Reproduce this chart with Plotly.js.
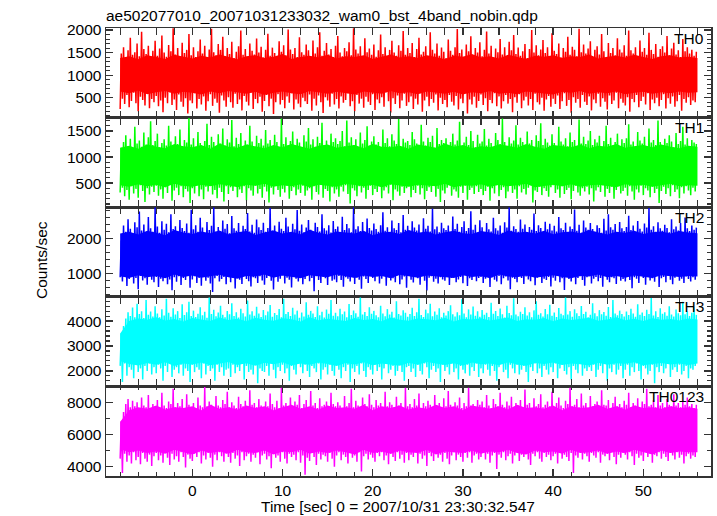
<!DOCTYPE html>
<html>
<head>
<meta charset="utf-8">
<script src="https://cdn.plot.ly/plotly-3.0.1.min.js"></script>
<style>html,body{margin:0;padding:0;background:#fff;}#chart{width:717px;height:516px;}</style>
</head>
<body>
<div id="chart"></div>
<script>
// Light-curve bins: time of first bin (sec), spike-bin width and core-bin width (sec)
const binStart = -8;
const binSize = 0.25;
const coreBin = 1.0;

const bandNames = ["TH0", "TH1", "TH2", "TH3", "TH0123"];

// ---- TH0: per-bin high / low excursions and dense-core envelope (counts/sec)
const th0Hi = [
1480,1620,1390,1550,1830,1450,1510,1700,1420,1960,1580,1470,1650,1380,1540,1760,
1430,1590,1880,1500,1410,1670,1530,2040,1460,1600,1370,1720,1490,1560,1910,1440,
1620,1400,1530,1790,1480,1650,1390,1570,2030,1510,1440,1690,1560,1850,1420,1600,
1470,1740,1380,1520,1640,1990,1450,1580,1410,1700,1540,1460,1810,1500,1630,1390,
1560,1920,1430,1610,1490,1380,1750,1520,1660,1440,2010,1570,1470,1600,1400,1840,
1510,1450,1680,1550,1390,1770,1480,1620,1950,1430,1540,1710,1460,1580,1400,1650,
1870,1500,1420,1600,1530,1730,1440,2040,1570,1480,1640,1390,1820,1510,1590,1450,
1680,1410,1550,1900,1470,1620,1380,1560,1760,1500,1430,1660,1540,1980,1450,1600,
1490,1710,1400,1580,1830,1460,1520,1640,1390,1950,1560,1480,1700,1430,1610,1520,
1380,1790,1540,1450,1620,2020,1490,1570,1410,1680,1530,1860,1440,1600,1500,1730,
1420,1560,1970,1480,1650,1390,1590,1510,1800,1460,1620,1400,1740,1550,1890,1470,
1610,1430,1530,1690,1380,1580,2000,1500,1660,1440,1570,1780,1490,1620,1410,1930,
1540,1470,1700,1390,1600,1520,1850,1450,1630,1560,1420,2030,1510,1680,1480,1590,
1750,1400,1560,1640,1460,1910,1530,1380,1710,1490,1600,1440,1820,1570,1500,1660,
1430,1990,1550,1480,1620,1390,1770,1520,1600,1450,1940,1560,1470,1690,1410,1580,
1640,1500,1870,1440,1590,1720,1460,1550,1400,1800,1530,1620,1480,1560,1430,1520];
const th0Lo = [
250,480,360,560,290,430,610,380,200,520,450,330,590,270,470,400,
540,310,440,180,500,380,620,340,460,230,570,410,300,490,150,440,
380,600,260,470,350,530,210,420,580,320,480,390,170,550,440,300,
510,400,280,590,360,460,220,540,410,330,610,250,470,380,520,190,
430,560,310,480,140,400,580,350,450,270,530,390,600,240,460,370,
290,500,420,360,570,210,480,330,550,400,160,510,440,300,590,350,
470,260,530,390,450,600,310,420,200,560,370,480,280,520,410,340,
580,230,460,380,510,300,620,420,170,490,360,550,270,440,590,320,
400,530,250,480,350,600,190,440,520,310,470,390,570,220,500,360,
450,290,560,410,330,540,240,480,380,610,150,460,350,520,280,430,
570,340,490,200,450,380,600,310,530,260,420,560,370,470,180,510,
390,580,270,440,520,330,470,230,590,400,350,500,210,460,540,300,
480,360,550,250,420,600,320,450,170,510,390,470,280,560,410,340,
530,220,460,380,590,300,490,410,240,550,360,440,610,270,480,390,
330,510,190,470,400,560,290,430,520,350,600,230,460,380,500,310,
450,580,260,490,370,530,300,420,560,210,470,390,510,340,440,400];
const th0CoreHi = [
1380,1420,1350,1440,1400,1360,1450,1410,1370,1430,1390,1460,1400,
1350,1420,1440,1380,1410,1470,1360,1400,1430,1390,1450,1370,1420,
1400,1440,1360,1410,1460,1390,1420,1380,1440,1400,1350,1430,1410,
1470,1390,1420,1370,1450,1400,1360,1430,1410,1440,1380,1420,1400,
1460,1370,1410,1430,1390,1450,1400,1360,1420,1440,1390,1410,1380];
const th0CoreLo = [
640,600,660,580,620,650,590,630,610,570,640,600,650,
620,590,630,560,610,640,600,580,650,620,590,630,600,
570,640,610,590,650,600,620,580,640,610,590,630,570,
620,600,650,590,610,580,640,620,600,570,630,610,650,
590,620,600,640,580,610,630,590,620,600,640,610,620];

// ---- TH1
const th1Hi = [
1180,1290,1420,1210,1350,1160,1580,1260,1320,1200,1470,1240,1380,1690,1230,1310,
1450,1190,1270,1340,1220,1600,1300,1170,1400,1250,1530,1210,1330,1280,1750,1240,
1360,1200,1480,1270,1180,1310,1640,1230,1390,1290,1160,1440,1260,1550,1220,1340,
1280,1710,1210,1370,1250,1460,1190,1320,1240,1600,1300,1180,1410,1270,1350,1220,
1520,1260,1330,1200,1430,1290,1170,1740,1250,1380,1230,1310,1490,1210,1350,1280,
1190,1420,1300,1560,1240,1340,1200,1390,1270,1660,1220,1320,1180,1450,1290,1360,
1250,1310,1500,1210,1700,1280,1380,1230,1340,1190,1470,1260,1330,1590,1220,1300,
1400,1240,1290,1180,1530,1270,1360,1210,1440,1320,1250,1730,1200,1350,1280,1310,
1230,1480,1340,1260,1190,1620,1300,1220,1370,1290,1410,1180,1560,1250,1330,1270,
1360,1200,1290,1450,1240,1320,1680,1210,1280,1390,1230,1500,1310,1190,1430,1260,
1300,1540,1220,1350,1270,1190,1460,1330,1250,1740,1290,1210,1380,1260,1320,1610,
1240,1370,1290,1200,1490,1260,1330,1180,1420,1310,1650,1230,1350,1280,1220,1440,
1270,1190,1580,1300,1240,1360,1210,1470,1290,1330,1200,1720,1260,1390,1250,1320,
1500,1230,1340,1280,1410,1200,1310,1600,1250,1370,1220,1290,1450,1180,1340,1270,
1360,1630,1240,1300,1210,1480,1320,1260,1390,1190,1550,1280,1330,1230,1700,1290,
1220,1350,1270,1420,1300,1190,1460,1250,1310,1580,1240,1360,1200,1330,1280,1250];
const th1Lo = [
320,410,250,370,180,440,300,390,220,460,350,140,400,280,430,330,
450,260,380,200,420,310,470,160,360,410,270,440,230,390,340,120,
400,300,450,250,380,190,430,340,460,280,370,210,410,330,150,440,
290,420,350,470,230,380,310,440,170,400,360,260,450,300,390,220,
430,340,130,410,280,460,370,240,390,320,450,200,350,420,270,380,
310,450,260,360,400,180,440,330,280,470,220,390,350,150,420,300,
380,240,430,340,460,290,110,400,360,250,440,320,410,200,370,450,
270,390,330,440,210,360,420,300,470,170,380,340,260,430,310,400,
440,230,370,310,450,280,400,190,350,420,330,460,240,390,140,360,
300,410,460,260,380,340,220,430,310,450,180,370,410,290,440,330,
390,270,350,430,160,400,300,460,250,370,420,210,340,450,310,380,
200,440,320,390,280,410,460,130,360,330,430,270,400,350,240,420,
460,310,380,220,440,290,370,410,190,350,450,320,260,400,340,430,
280,400,150,360,420,330,460,240,390,310,430,200,370,440,300,350,
410,260,440,340,180,380,320,450,270,400,360,230,430,310,390,120,
350,430,290,400,250,460,330,380,210,420,300,440,360,270,410,340];
const th1CoreHi = [
1180,1220,1160,1240,1200,1170,1250,1210,1190,1230,1160,1260,1200,
1180,1240,1210,1170,1230,1190,1250,1200,1160,1220,1240,1180,1210,
1230,1170,1250,1200,1190,1220,1160,1240,1210,1180,1260,1200,1230,
1170,1210,1190,1240,1220,1180,1250,1200,1160,1230,1210,1190,1240,
1170,1220,1200,1250,1180,1210,1230,1190,1240,1200,1170,1220,1200];
const th1CoreLo = [
460,430,480,440,470,420,490,450,430,470,440,480,460,
420,470,450,490,430,460,440,480,420,470,450,430,490,
460,440,470,420,480,450,430,470,460,440,490,420,460,
450,480,430,470,440,460,490,420,450,470,440,480,430,
460,470,440,420,480,450,470,430,460,490,440,460,450];

// ---- TH2
const th2Hi = [
1950,2380,2200,2560,2290,2150,2470,2330,2780,2240,2410,2180,2620,2300,2200,2900,
2350,2170,2500,2260,2430,2190,2700,2280,2360,2150,2540,2310,2220,2440,2170,2830,
2270,2390,2200,2600,2320,2160,2480,2250,2370,2900,2210,2340,2180,2520,2290,2420,
2160,2650,2300,2230,2450,2190,2370,2280,2740,2210,2400,2170,2550,2330,2250,2460,
2200,2310,2880,2240,2380,2170,2490,2290,2220,2600,2350,2180,2430,2270,2820,2230,
2410,2190,2320,2540,2260,2160,2460,2340,2210,2700,2300,2240,2390,2180,2510,2280,
2350,2170,2630,2250,2420,2300,2190,2900,2270,2360,2220,2480,2160,2580,2310,2240,
2440,2280,2200,2390,2760,2230,2330,2170,2520,2300,2250,2450,2190,2680,2260,2370,
2180,2500,2320,2240,2410,2160,2590,2290,2370,2210,2860,2270,2350,2190,2460,2300,
2250,2380,2170,2640,2280,2430,2200,2340,2500,2220,2310,2790,2260,2400,2180,2530,
2330,2190,2450,2270,2210,2600,2300,2240,2380,2170,2470,2320,2900,2230,2360,2280,
2200,2550,2290,2410,2180,2340,2260,2720,2220,2390,2310,2160,2490,2270,2430,2240,
2370,2210,2620,2300,2250,2460,2190,2350,2280,2840,2230,2400,2170,2520,2320,2260,
2450,2280,2200,2390,2310,2170,2570,2240,2700,2330,2260,2420,2190,2480,2300,2220,
2340,2660,2250,2380,2180,2510,2290,2210,2440,2320,2880,2260,2360,2200,2470,2300,
2230,2400,2310,2190,2560,2270,2350,2240,2450,2180,2610,2300,2220,2380,2260,2320];
const th2Lo = [
900,780,960,650,850,920,720,880,560,940,810,870,690,950,830,760,
910,620,860,790,970,700,840,530,900,770,930,680,880,820,950,600,
840,930,740,880,660,960,800,890,720,480,870,940,780,850,910,700,
950,760,890,580,920,830,710,960,850,790,640,900,870,740,930,810,
690,880,940,800,550,910,770,860,950,720,890,830,610,940,860,780,
920,700,850,960,790,880,500,930,820,740,910,870,680,950,800,840,
760,940,820,630,900,860,780,950,710,890,830,570,920,850,740,960,
880,790,930,720,860,940,660,900,810,870,760,950,700,840,920,600,
940,830,750,910,870,690,950,800,520,890,930,770,860,720,900,840,
800,920,680,880,950,760,840,910,730,960,650,870,820,940,790,880,
910,740,860,960,620,900,830,780,940,700,870,920,810,560,890,850,
760,950,880,710,920,840,790,930,670,890,960,740,860,820,910,640,
890,800,940,760,870,540,920,850,780,950,700,880,930,820,660,900,
950,720,860,910,790,880,630,940,830,760,900,870,710,960,800,850,
780,930,820,590,900,860,740,950,880,690,920,810,870,770,940,620,
870,910,760,940,830,700,890,950,800,860,740,920,850,780,900,830];
const th2CoreHi = [
2150,2200,2120,2230,2170,2100,2250,2180,2140,2210,2160,2240,2130,
2190,2220,2110,2180,2240,2150,2200,2130,2260,2170,2120,2210,2190,
2150,2230,2100,2180,2200,2140,2250,2170,2210,2120,2190,2230,2160,
2140,2220,2180,2110,2240,2170,2200,2150,2230,2130,2190,2210,2160,
2250,2180,2120,2200,2170,2230,2140,2190,2210,2150,2220,2180,2160];
const th2CoreLo = [
930,880,960,900,940,870,980,910,950,890,930,970,900,
860,940,920,980,890,950,910,870,960,930,900,980,920,
880,950,910,940,870,970,920,890,950,930,900,880,960,
910,940,870,980,920,900,950,890,930,960,910,870,940,
920,980,900,940,890,950,920,880,960,930,910,940,920];

// ---- TH3
const th3Hi = [
3500,3800,4100,4350,4200,4550,4150,4700,4280,4400,4120,4850,4250,4380,4180,4600,
4300,4150,4480,4220,4900,4330,4170,4520,4260,4400,4120,4680,4240,4350,4780,4200,
4420,4160,4290,4560,4230,4370,4130,4950,4280,4460,4190,4340,4620,4250,4150,4410,
4270,4720,4200,4350,4140,4500,4310,4180,4830,4260,4400,4210,4580,4300,4160,4450,
4230,4380,4650,4170,4320,4240,4490,4150,4900,4280,4360,4200,4540,4260,4420,4130,
4340,4180,4760,4250,4410,4300,4160,4600,4230,4370,4140,4470,4290,4850,4210,4330,
4190,4500,4270,4380,4150,4690,4240,4430,4310,4170,4950,4260,4360,4200,4560,4290,
4410,4230,4150,4620,4300,4190,4480,4260,4370,4140,4800,4280,4220,4440,4330,4170,
4280,4540,4200,4350,4900,4240,4160,4460,4310,4700,4190,4380,4250,4520,4150,4330,
4220,4400,4640,4270,4180,4350,4230,4880,4300,4150,4470,4260,4590,4210,4390,4170,
4450,4250,4330,4160,4740,4290,4410,4200,4510,4270,4140,4620,4320,4230,4920,4260,
4190,4370,4280,4560,4220,4350,4150,4430,4800,4250,4310,4180,4490,4270,4660,4210,
4340,4160,4530,4290,4230,4950,4260,4400,4170,4480,4310,4200,4610,4280,4370,4150,
4250,4720,4310,4190,4440,4270,4360,4210,4570,4160,4850,4300,4230,4420,4280,4180,
4380,4240,4500,4300,4170,4680,4250,4340,4200,4460,4280,4930,4220,4390,4160,4520,
4290,4350,4210,4600,4260,4180,4470,4310,4230,4780,4270,4400,4200,4330,4560,4250];
const th3Lo = [
2200,1550,2300,1800,2150,2050,1700,2250,1950,2100,1650,2200,2000,2300,1850,2150,
1900,2250,2100,1600,2200,1950,2300,1750,2050,2150,1900,2250,1800,2100,2000,1550,
2250,1950,2150,2050,1700,2300,1850,2200,2000,2100,1600,2250,1950,2150,1800,2050,
2100,1750,2250,1900,2150,2000,2300,1650,2200,1950,2050,1850,2250,1500,2100,2000,
1950,2200,1800,2300,2050,1700,2150,2000,2250,1900,2100,1600,2200,2050,1850,2300,
2150,1900,2250,2000,1750,2200,2100,1950,2300,1650,2050,2150,1850,2250,2000,1800,
2300,2050,1700,2150,2000,2250,1550,2100,1950,2200,1850,2300,2000,1750,2150,2050,
1850,2250,2000,2150,1650,2100,2300,1900,2050,2200,1800,2000,2250,1950,1600,2150,
2200,1950,2100,1750,2250,2000,1850,2300,2150,1700,2050,2200,1950,2100,1550,2250,
2000,2150,1850,2300,1950,2100,1650,2200,2050,1900,2250,1800,2150,2000,2300,1750,
2100,1900,2250,2050,1800,2200,2000,1600,2150,2300,1950,2050,1700,2250,2100,1900,
2250,1850,2050,2200,1950,1550,2150,2000,2300,1900,2100,1750,2200,2050,1850,2150,
1950,2300,1700,2100,2250,2000,1850,2150,1650,2200,2050,1900,2300,1800,2100,2000,
2150,2000,2250,1750,2050,2200,1900,2300,1600,2100,1950,2250,1850,2050,2200,1700,
2050,2250,1800,2150,1950,2300,2000,1650,2200,2100,1850,2000,2250,1500,2150,1950,
2200,1900,2100,2300,1750,2050,2150,1950,2250,1850,2000,2200,1700,2100,2050,2200];
const th3CoreHi = [
3500,4000,4100,4050,4150,4020,4080,3980,4120,4060,4000,4140,4040,
4090,3990,4130,4050,4010,4110,4070,3980,4150,4030,4090,4060,4000,
4120,4040,4080,3990,4140,4050,4010,4100,4070,4030,4130,3980,4090,
4060,4110,4020,4080,4140,4000,4070,4050,4120,3990,4100,4040,4080,
4130,4010,4060,4150,4030,4090,4000,4110,4050,4080,4020,4100,4060];
const th3CoreLo = [
2400,2280,2220,2320,2250,2350,2200,2300,2260,2340,2230,2290,2360,
2240,2310,2210,2330,2270,2350,2220,2300,2250,2340,2280,2200,2320,
2260,2350,2230,2300,2270,2210,2330,2250,2360,2290,2240,2310,2220,
2340,2270,2300,2230,2350,2260,2210,2320,2280,2340,2240,2300,2270,
2220,2330,2250,2310,2290,2350,2230,2280,2320,2260,2300,2240,2300];

// ---- TH0123
const th0123Hi = [
6800,7400,7900,8200,7700,8100,7750,8000,7650,8300,7800,7700,8450,7650,7900,7750,
8150,7700,8600,7800,7650,8050,7900,8850,7700,7950,7750,8200,7650,8500,7850,7700,
7950,7650,8300,7800,7700,8950,7750,8050,7850,7650,8400,7800,7700,8150,7900,8650,
7700,8000,7800,7650,8350,7900,7750,8100,7650,8750,7850,7950,7700,8200,7800,7650,
8050,7750,8550,7900,7700,8100,7650,8900,7800,7950,7700,8300,7750,8050,7850,8450,
7650,7900,8150,7700,8700,7800,7950,7650,8250,7750,7850,8050,7700,8600,7900,7750,
8000,7800,7650,8400,7750,7950,8850,7700,8100,7800,7650,8300,7900,7750,8500,7850,
7700,8150,7800,7950,7650,8650,7750,8000,7850,7700,8350,7800,7950,7650,8900,7750,
7900,7700,8200,7800,8550,7650,7950,7750,8100,7850,7700,8450,7800,7950,7650,8250,
7750,8700,7850,7700,8000,7800,8300,7650,7950,7750,8900,7800,7900,7700,8150,7850,
8050,7700,8450,7800,7650,8200,7900,7750,8600,7850,7700,8050,7800,8350,7650,7950,
7800,8150,7700,8800,7850,7950,7650,8250,7750,7900,8500,7700,7850,8050,7750,8650,
7700,7950,8300,7800,7650,8100,7900,8900,7750,7850,8200,7700,8550,7800,7950,7650,
8400,7750,7900,8050,7700,8750,7850,7800,8150,7650,7950,8350,7750,7900,7700,8100,
7850,8600,7700,7950,7800,8250,7650,8050,7900,8850,7750,7850,8150,7700,8450,7800,
7950,7700,8200,7850,7750,8500,7800,7950,7700,8100,7850,8300,7750,7900,7650,7850];
const th0123Lo = [
4500,3600,4800,4300,4700,4200,4900,4400,4600,4150,4850,4500,4300,4750,4050,4650,
4850,4400,4700,4250,4900,4550,4100,4800,4450,4650,4300,4900,4600,3950,4750,4500,
4350,4800,4600,4900,4200,4700,4450,4850,4550,4000,4750,4400,4900,4650,4300,4800,
4600,4250,4850,4500,4700,4050,4900,4400,4650,4800,4300,4750,4550,4900,4150,4700,
4800,4450,4650,3900,4850,4550,4700,4300,4900,4500,4200,4800,4600,4750,4400,4900,
4250,4700,3500,4550,4350,4900,4600,4100,4800,4450,4750,4650,4300,4850,4500,4000,
4700,4900,4400,4750,4600,4200,4850,4550,4700,4300,4900,3700,4650,4800,4450,4750,
4550,4300,4850,4650,4900,4400,4700,4150,4800,4600,4350,4900,4500,4750,4250,4850,
4400,4750,4600,4900,4200,4800,4500,4700,4050,4850,4650,4350,4900,4550,4750,4300,
4850,4500,4150,4700,4900,4400,4750,4600,4300,4850,4550,4900,4250,4700,4800,4450,
4600,4900,4450,4800,4250,4700,4850,3850,4750,4550,4900,4400,4650,4800,4200,4700,
4900,4350,4750,4600,4850,4450,4100,4800,4650,4900,4500,4300,4850,4600,4750,4400,
4650,4800,4200,4900,4500,4750,4600,4350,4850,3600,4700,4550,4900,4450,4800,4650,
4300,4850,4700,4550,4900,4250,4750,4650,4800,4400,4900,4600,4150,4750,4550,4850,
4750,4450,4900,4650,4100,4800,4550,4700,4350,4900,4600,4800,4250,4750,4650,4900,
4500,4800,4600,4350,4850,4700,4450,4900,4550,4750,4200,4650,4800,4500,4700,4600];
const th0123CoreHi = [
6800,7500,7700,7600,7800,7550,7700,7650,7750,7500,7850,7600,7700,
7550,7800,7650,7750,7500,7700,7850,7600,7750,7550,7800,7650,7700,
7600,7850,7500,7750,7650,7800,7550,7700,7600,7850,7650,7750,7500,
7800,7700,7600,7750,7550,7850,7650,7700,7600,7800,7500,7750,7650,
7700,7850,7600,7750,7550,7800,7650,7700,7600,7750,7650,7700,7600];
const th0123CoreLo = [
5100,4900,5000,4850,4950,4800,5050,4900,4750,5000,4850,4950,4800,
5050,4900,4850,5000,4750,4950,4900,5050,4800,4950,4850,5000,4900,
4750,5050,4850,4950,4800,5000,4900,4850,5050,4750,4950,4900,4850,
5000,4800,4950,4900,5050,4850,4750,5000,4900,4950,4800,5050,4850,
4900,5000,4800,4950,4850,5050,4900,4750,5000,4850,4950,4900,4900];

const lowSeries = [th0Lo, th1Lo, th2Lo, th3Lo, th0123Lo];
const highSeries = [th0Hi, th1Hi, th2Hi, th3Hi, th0123Hi];
const coreLowSeries = [th0CoreLo, th1CoreLo, th2CoreLo, th3CoreLo, th0123CoreLo];
const coreHighSeries = [th0CoreHi, th1CoreHi, th2CoreHi, th3CoreHi, th0123CoreHi];

// styling
const colors = ["#ff0000", "#00ff00", "#0000ff", "#00ffff", "#ff00ff"];
const yRanges = [[60, 2045], [38, 1758], [343, 2903], [1376, 4976], [3420, 8990]];
const yDticks = [500, 500, 1000, 1000, 2000];
const yMinor = [100, 100, 200, 200, 1000];

function zigzag(lo, hi) {
  const x = [], y = [];
  const n = Math.min(lo.length, hi.length);
  for (let i = 0; i < n; i++) {
    const t = binStart + i * binSize;
    x.push(t); y.push(lo[i]);
    x.push(t + binSize / 2); y.push(hi[i]);
  }
  return {x, y};
}
function coreTimes(arr) { return arr.map((_, j) => binStart + j * coreBin); }

const FONT = '"Liberation Sans", Arial, Helvetica, sans-serif';
const AX = '#333';
const traces = [];
const layout = {
  width: 717, height: 516,
  margin: {l: 106, r: 6, t: 28, b: 40, pad: 0},
  paper_bgcolor: '#fff', plot_bgcolor: '#fff',
  showlegend: false,
  font: {family: FONT, size: 15.5, color: '#000'},
  title: {text: 'ae502077010_20071031233032_wam0_bst_4band_nobin.qdp',
          x: 106 / 717, xref: 'container', xanchor: 'left',
          y: 1 - 16 / 516, yref: 'container', yanchor: 'middle',
          font: {family: FONT, size: 15.5, color: '#000'}},
  xaxis: {range: [-9.57, 57.5], anchor: 'y5', tick0: 0, dtick: 10,
          ticks: 'inside', ticklen: 7, tickwidth: 1.3, tickcolor: AX,
          minor: {dtick: 2, ticks: 'inside', ticklen: 4, tickwidth: 1.1, tickcolor: AX},
          showline: true, linecolor: AX, linewidth: 1.5, mirror: 'allticks',
          showgrid: false, zeroline: false, tickfont: {size: 15.5}},
  annotations: []
};

const n = 5;
for (let k = 0; k < n; k++) {
  const yid = k === 0 ? 'y' : 'y' + (k + 1);
  const cx = coreTimes(coreLowSeries[k]);
  traces.push({x: cx, y: coreLowSeries[k], type: 'scatter', mode: 'lines', xaxis: 'x', yaxis: yid,
               line: {width: 0, color: colors[k]}, hoverinfo: 'skip'});
  traces.push({x: cx, y: coreHighSeries[k], type: 'scatter', mode: 'lines', xaxis: 'x', yaxis: yid,
               line: {width: 0, color: colors[k]}, fill: 'tonexty', fillcolor: colors[k], hoverinfo: 'skip'});
  const d = zigzag(lowSeries[k], highSeries[k]);
  traces.push({x: d.x, y: d.y, type: 'scatter', mode: 'lines', xaxis: 'x', yaxis: yid,
               line: {color: colors[k], width: 1.5, simplify: false}, hoverinfo: 'skip'});
  const top = 1 - k / n, bot = 1 - (k + 1) / n;
  layout[k === 0 ? 'yaxis' : 'yaxis' + (k + 1)] = {
    domain: [bot, top], anchor: 'x', range: yRanges[k], tick0: 0, dtick: yDticks[k],
    ticks: 'inside', ticklen: 7, tickwidth: 1.3, tickcolor: AX,
    minor: {dtick: yMinor[k], ticks: 'inside', ticklen: 4, tickwidth: 1.1, tickcolor: AX},
    showline: true, linecolor: AX, linewidth: 1.5, mirror: 'allticks',
    showgrid: false, zeroline: false, tickfont: {size: 15.5}
  };
  layout.annotations.push({text: bandNames[k], xref: 'paper', yref: 'paper',
    x: 0.9917, y: top - 10 / 448, xanchor: 'right', yanchor: 'middle', showarrow: false,
    font: {family: FONT, size: 15.5, color: '#000'}});
}
layout.annotations.push({text: 'Counts/sec', xref: 'paper', yref: 'paper',
  x: (41 - 106) / 605, y: (476 - 260) / 448, textangle: -90, xanchor: 'center', yanchor: 'middle',
  showarrow: false, font: {family: FONT, size: 15.5, color: '#000'}});
layout.annotations.push({text: 'Time [sec] 0 = 2007/10/31 23:30:32.547', xref: 'paper', yref: 'paper',
  x: (397.5 - 106) / 605, y: (476 - 506) / 448, xanchor: 'center', yanchor: 'middle',
  showarrow: false, font: {family: FONT, size: 15.5, color: '#000'}});

Plotly.newPlot('chart', traces, layout, {displayModeBar: false, staticPlot: true});
</script>
</body>
</html>
